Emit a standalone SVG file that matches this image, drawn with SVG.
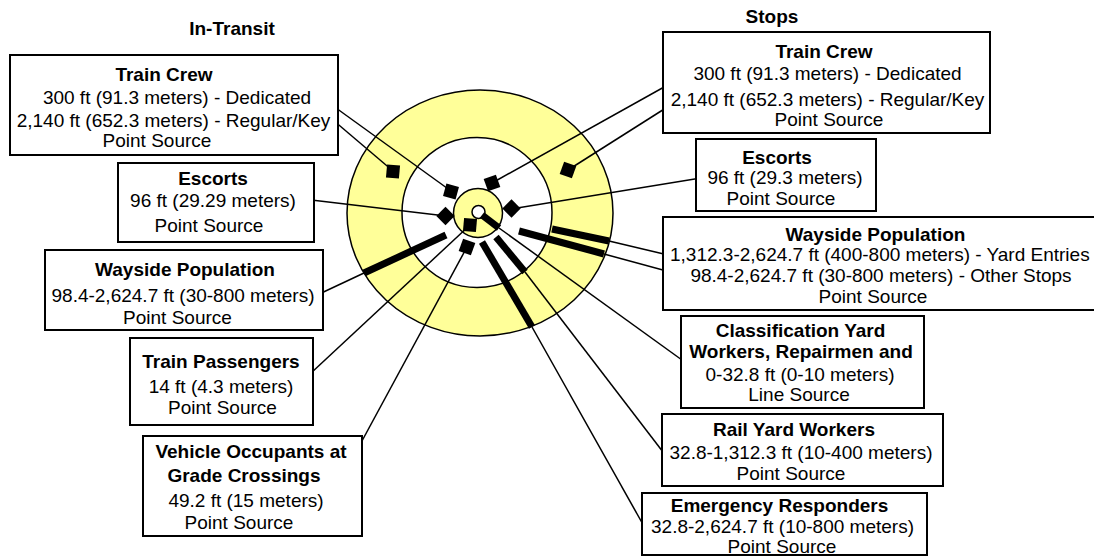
<svg xmlns="http://www.w3.org/2000/svg" width="1094" height="556" viewBox="0 0 1094 556">
<style>
text{font-family:"Liberation Sans",Arial,sans-serif;font-size:19px;fill:#000;text-anchor:middle}
.b{font-weight:bold}
.box{fill:#fff;stroke:#000;stroke-width:2}
.ln{stroke:#000;stroke-width:1.5;fill:none}
.bar{stroke:#000;stroke-width:7;fill:none}
.dia{fill:#000}
.ring{stroke:#000;stroke-width:1.5}
</style>
<rect width="1094" height="556" fill="#fff"/>
<g id="rings">
<ellipse class="ring" cx="480" cy="213" rx="133" ry="123" fill="#ffff99"/>
<circle class="ring" cx="477" cy="212.5" r="75" fill="#fff"/>
<circle class="ring" cx="478" cy="213" r="24.5" fill="#ffff99"/>
<circle class="ring" cx="478.5" cy="212" r="6.5" fill="#fff"/>
</g>
<g id="connectors">
<line class="ln" x1="318" y1="95" x2="451" y2="191"/>
<line class="ln" x1="333" y1="120" x2="393" y2="171"/>
<line class="ln" x1="303" y1="199" x2="446" y2="216"/>
<line class="ln" x1="315" y1="296" x2="364" y2="273"/>
<line class="ln" x1="296" y1="387" x2="470" y2="225"/>
<line class="ln" x1="330" y1="500" x2="467" y2="247"/>
<line class="ln" x1="691" y1="72" x2="492" y2="183"/>
<line class="ln" x1="669" y1="106" x2="568" y2="170"/>
<line class="ln" x1="707" y1="177" x2="511" y2="209"/>
<line class="ln" x1="668" y1="255" x2="609" y2="241"/>
<line class="ln" x1="685" y1="276" x2="604" y2="254"/>
<line class="ln" x1="700" y1="373" x2="499" y2="228"/>
<line class="ln" x1="663" y1="452" x2="525" y2="272"/>
<line class="ln" x1="645" y1="528" x2="532" y2="327"/>
<line class="bar" x1="446" y1="235" x2="364" y2="273"/>
<line class="bar" x1="482" y1="215" x2="499" y2="228"/>
<line class="bar" x1="496" y1="237" x2="525" y2="272"/>
<line class="bar" x1="482" y1="242" x2="532" y2="327"/>
<line class="bar" x1="519" y1="231" x2="604" y2="254"/>
<line class="bar" x1="552" y1="229" x2="609" y2="241"/>
<rect class="dia" x="-6.5" y="-6.5" width="13" height="13" transform="translate(393,171.5) rotate(5)"/>
<rect class="dia" x="-6.5" y="-6.5" width="13" height="13" transform="translate(451,191.5) rotate(15)"/>
<rect class="dia" x="-6.5" y="-6.5" width="13" height="13" transform="translate(492,183) rotate(-20)"/>
<rect class="dia" x="-6.5" y="-6.5" width="13" height="13" transform="translate(568,170) rotate(20)"/>
<rect class="dia" x="-6.5" y="-6.5" width="13" height="13" transform="translate(511.5,208.5) rotate(45)"/>
<rect class="dia" x="-6.5" y="-6.5" width="13" height="13" transform="translate(445.5,216) rotate(45)"/>
<rect class="dia" x="-6.5" y="-6.5" width="13" height="13" transform="translate(470,225) rotate(5)"/>
<rect class="dia" x="-6.5" y="-6.5" width="13" height="13" transform="translate(467,247) rotate(20)"/>
</g>
<g id="titles">
<text class="b" x="232" y="35">In-Transit</text>
<text class="b" x="772" y="23">Stops</text>
</g>
<g id="transit-train-crew">
<rect class="box" x="10" y="55" width="328" height="100"/>
<text class="b" x="164" y="81">Train Crew</text>
<text x="177" y="104">300 ft (91.3 meters) - Dedicated</text>
<text x="173.5" y="127">2,140 ft (652.3 meters) - Regular/Key</text>
<text x="157" y="147">Point Source</text>
</g>
<g id="transit-escorts">
<rect class="box" x="118" y="163" width="196" height="79"/>
<text class="b" x="213" y="185">Escorts</text>
<text x="213" y="207">96 ft (29.29 meters)</text>
<text x="209" y="232">Point Source</text>
</g>
<g id="transit-wayside">
<rect class="box" x="45" y="250" width="278" height="80"/>
<text class="b" x="185" y="276">Wayside Population</text>
<text x="183" y="301.5">98.4-2,624.7 ft (30-800 meters)</text>
<text x="177.5" y="324">Point Source</text>
</g>
<g id="transit-passengers">
<rect class="box" x="130" y="338" width="183" height="87"/>
<text class="b" x="221" y="368">Train Passengers</text>
<text x="221" y="392.5">14 ft (4.3 meters)</text>
<text x="222.5" y="414">Point Source</text>
</g>
<g id="transit-vehicle">
<rect class="box" x="143" y="436" width="219" height="100"/>
<text class="b" x="251" y="458">Vehicle Occupants at</text>
<text class="b" x="244" y="482">Grade Crossings</text>
<text x="246" y="507">49.2 ft (15 meters)</text>
<text x="239" y="529">Point Source</text>
</g>
<g id="stops-train-crew">
<rect class="box" x="663" y="32" width="327" height="101"/>
<text class="b" x="824" y="58">Train Crew</text>
<text x="827.5" y="80">300 ft (91.3 meters) - Dedicated</text>
<text x="827.5" y="105.5">2,140 ft (652.3 meters) - Regular/Key</text>
<text x="829" y="125.5">Point Source</text>
</g>
<g id="stops-escorts">
<rect class="box" x="696" y="139" width="180" height="72"/>
<text class="b" x="777" y="164">Escorts</text>
<text x="785" y="184">96 ft (29.3 meters)</text>
<text x="781" y="205">Point Source</text>
</g>
<g id="stops-wayside">
<rect class="box" x="663" y="217" width="440" height="93"/>
<text class="b" x="875.5" y="241">Wayside Population</text>
<text x="670" y="261" style="text-anchor:start">1,312.3-2,624.7 ft (400-800 meters) - Yard Entries</text>
<text x="881" y="281.5">98.4-2,624.7 ft (30-800 meters) - Other Stops</text>
<text x="873" y="302.5">Point Source</text>
</g>
<g id="classification-yard">
<rect class="box" x="681" y="316" width="243" height="92"/>
<text class="b" x="800.5" y="336.5">Classification Yard</text>
<text class="b" x="801" y="358">Workers, Repairmen and</text>
<text x="800" y="381">0-32.8 ft (0-10 meters)</text>
<text x="799" y="401">Line Source</text>
</g>
<g id="rail-yard-workers">
<rect class="box" x="662" y="414" width="281" height="72"/>
<text class="b" x="794" y="435.5">Rail Yard Workers</text>
<text x="801" y="459">32.8-1,312.3 ft (10-400 meters)</text>
<text x="791" y="480">Point Source</text>
</g>
<g id="emergency-responders">
<rect class="box" x="642" y="493" width="285" height="62"/>
<text class="b" x="779.5" y="512">Emergency Responders</text>
<text x="782.5" y="532.5">32.8-2,624.7 ft (10-800 meters)</text>
<text x="782" y="552.5">Point Source</text>
</g>
</svg>
